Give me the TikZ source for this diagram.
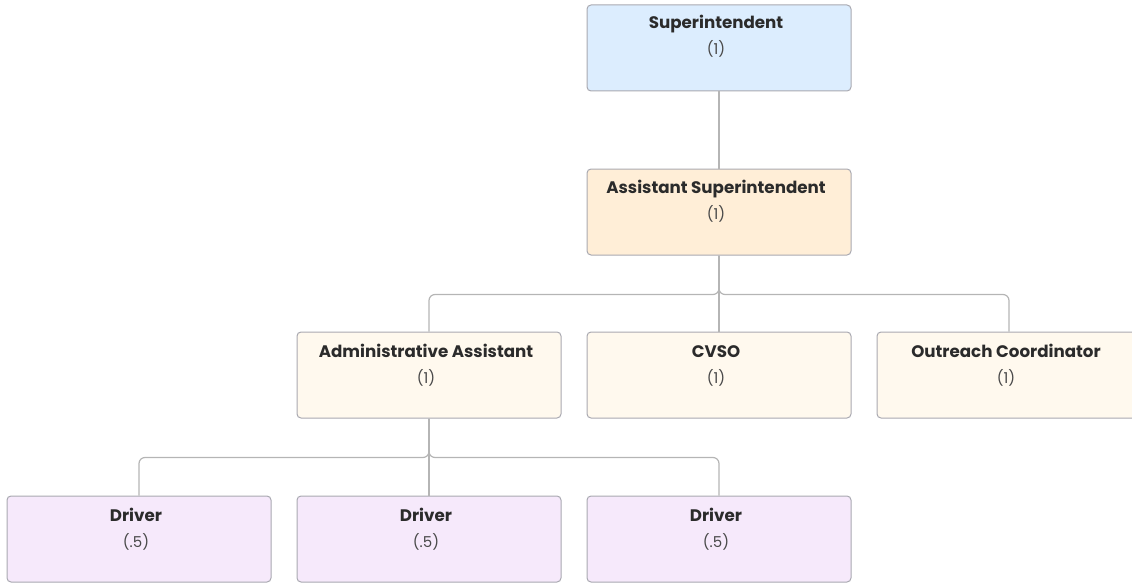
\documentclass[tikz,border=0pt]{standalone}
\usepackage{fontspec}
\setmainfont{Poppins}
\usetikzlibrary{positioning}
\definecolor{boxline}{HTML}{A9A9B1}
\definecolor{linkgray}{HTML}{B5B5B5}
\definecolor{txtdark}{HTML}{2B2B2B}
\definecolor{txtsoft}{HTML}{4A4A4A}
\definecolor{supfill}{HTML}{DCEDFE}
\definecolor{asstfill}{HTML}{FFEED7}
\definecolor{stafffill}{HTML}{FFF9EE}
\definecolor{drvfill}{HTML}{F6E9FB}
\tikzset{
  % boxes of the chart
  box/.style={draw=boxline,line width=1,rounded corners=4,minimum width=264,minimum height=86,inner sep=0},
  box sup/.style={box,fill=supfill},
  box asst/.style={box,fill=asstfill},
  box staff/.style={box,fill=stafffill},
  box drv/.style={box,fill=drvfill},
  % texts
  ttl/.style={anchor=base,font=\fontsize{16.7}{20}\selectfont\bfseries,text=txtdark,inner sep=0},
  cnt/.style={anchor=base,font=\fontsize{15}{18}\selectfont,text=txtsoft,inner sep=0},
  % connections
  link/.style={linkgray,line width=1.2,rounded corners=6}
}
\begin{document}
\begin{tikzpicture}[x=1pt,y=-1pt]
  \useasboundingbox (0,0) rectangle (1132,583);
  \clip (0,0) rectangle (1132,583);
  % boxes
  \node[box sup]   (sup)   at (719,48)  {};
  \node[box asst]  (asst)  at (719,212) {};
  \node[box staff] (admin) at (429,375) {};
  \node[box staff] (cvso)  at (719,375) {};
  \node[box staff] (outr)  at (1009,375) {};
  \node[box drv]   (drvA)  at (139,539) {};
  \node[box drv]   (drvB)  at (429,539) {};
  \node[box drv]   (drvC)  at (719,539) {};
  % texts
  \node[ttl] (supT)   at (716,29)  {Superintendent};
  \node[cnt] (supN)   at (716,55)  {(1)};
  \node[ttl] (asstT)  at (716,193) {Assistant Superintendent};
  \node[cnt] (asstN)  at (716,219) {(1)};
  \node[ttl] (adminT) at (426,357) {Administrative Assistant};
  \node[cnt] (adminN) at (426,383) {(1)};
  \node[ttl] (cvsoT)  at (716,357) {CVSO};
  \node[cnt] (cvsoN)  at (716,383) {(1)};
  \node[ttl] (outrT)  at (1006,357) {Outreach Coordinator};
  \node[cnt] (outrN)  at (1006,383) {(1)};
  \node[ttl] (drvAT)  at (136,521) {Driver};
  \node[cnt] (drvAN)  at (136,547) {(.5)};
  \node[ttl] (drvBT)  at (426,521) {Driver};
  \node[cnt] (drvBN)  at (426,547) {(.5)};
  \node[ttl] (drvCT)  at (716,521) {Driver};
  \node[cnt] (drvCN)  at (716,547) {(.5)};
  % connections
  \draw[link] (sup.south) -- (asst.north);
  \draw[link] (asst.south) -- ++(0,39) -| (admin.north);
  \draw[link] (asst.south) -- ++(0,39) -| (outr.north);
  \draw[link] (asst.south) -- (cvso.north);
  \draw[link] (admin.south) -- ++(0,39) -| (drvA.north);
  \draw[link] (admin.south) -- ++(0,39) -| (drvC.north);
  \draw[link] (admin.south) -- (drvB.north);
\end{tikzpicture}
\end{document}
